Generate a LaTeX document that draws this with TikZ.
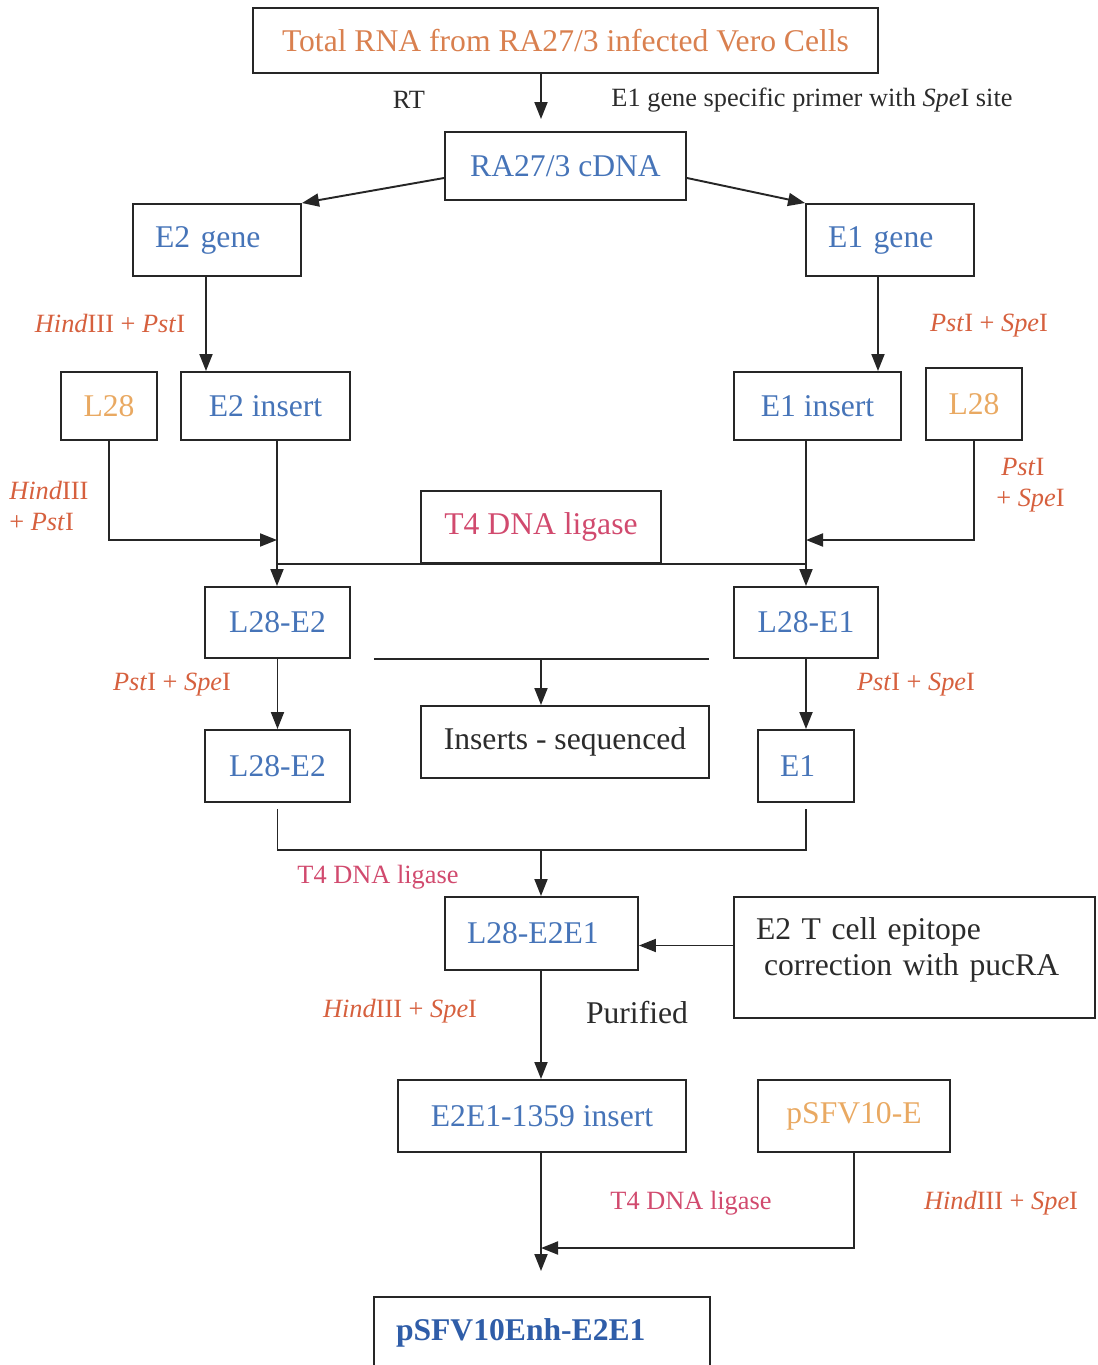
\documentclass[tikz,border=0pt]{standalone}
\usepackage{fontspec}
\setmainfont{Liberation Serif}
\usetikzlibrary{arrows.meta,calc}

\definecolor{linecol}{HTML}{262626}
\definecolor{txtcol}{HTML}{2B2B2B}
\definecolor{orangetxt}{HTML}{D9804F}
\definecolor{bluetxt}{HTML}{4674B8}
\definecolor{darkblue}{HTML}{2F5DA8}
\definecolor{peachtxt}{HTML}{E9A962}
\definecolor{enzred}{HTML}{D6603E}
\definecolor{ligpink}{HTML}{D14A6E}

\def\pu{0.02cm}
\newcommand\bigtxt{\fontsize{18}{21}\selectfont}
\newcommand\smalltxt{\fontsize{15}{18}\selectfont}

\tikzset{
box/.style 2 args={draw=linecol, line width=1.1pt, minimum width=#1*\pu, minimum height=#2*\pu, inner sep=0pt, font=\bigtxt, text=bluetxt},
lbox/.style 2 args={box={#1}{#2}, align=left, text width=(#1-44)*\pu},
arr/.style={draw=linecol, line width=1.1pt, -{Triangle[length=0.34cm,width=0.26cm]}},
ln/.style={draw=linecol, line width=1.1pt},
lab/.style={inner sep=0pt, font=\smalltxt, text=txtcol},
enz/.style={lab, text=enzred},
lig/.style={lab, text=ligpink}
}

\begin{document}
\begin{tikzpicture}[x=0.02cm, y=-0.02cm]
\useasboundingbox (0,0) rectangle (1098,1365);

\coordinate (cmid) at (541,0);
\coordinate (cleft) at (277,0);
\coordinate (cright) at (806,0);
\coordinate (c2) at (206,0);
\coordinate (c1) at (878,0);
\coordinate (jl) at (277,540);
\coordinate (jr) at (806,540);
\coordinate (jb) at (541,850);
\coordinate (jf) at (541,1248);

\node[box={625}{65}, text=orangetxt] (total) at (565.5,40.5) {Total RNA from RA27/3 infected Vero Cells};
\node[box={241}{68}] (cdna) at (565.5,166) {RA27/3 cDNA};
\node[lbox={168}{72}] (e2gene) at (217,240) {E2 gene};
\node[lbox={168}{72}] (e1gene) at (890,240) {E1 gene};
\node[box={96}{68}, text=peachtxt] (l28a) at (109,406) {L28};
\node[box={169}{68}] (e2ins) at (265.5,406) {E2 insert};
\node[box={167}{68}] (e1ins) at (817.5,406) {E1 insert};
\node[box={96}{72}, text=peachtxt] (l28b) at (974,404) {L28};
\node[box={240}{72}, text=ligpink] (ligase) at (541,527) {T4 DNA ligase};
\node[box={145}{71}] (l28e2) at (277.5,622.5) {L28-E2};
\node[box={144}{71}] (l28e1) at (806,622.5) {L28-E1};
\node[box={288}{72}, text=txtcol] (inserts) at (565,742) {Inserts - sequenced};
\node[box={145}{72}] (l28e2b) at (277.5,766) {L28-E2};
\node[lbox={96}{72}] (e1) at (806,766) {E1};
\node[lbox={193}{73}] (l28e2e1) at (541.5,933.5) {L28-E2E1};
\node[lbox={361}{121}, text=txtcol, text height=42*\pu, text depth=79*\pu] (epitope) at (914.5,957.5) {E2 T cell epitope\\\hspace*{0.16cm}correction with pucRA};
\node[box={288}{72}] (e2e1ins) at (542,1116) {E2E1-1359 insert};
\node[box={192}{72}, text=peachtxt] (psfv) at (854,1116) {pSFV10-E};
\node[lbox={336}{72}, text=darkblue, font=\bigtxt\bfseries] (final) at (542,1333) {pSFV10Enh-E2E1};

\node[lab] (rt) at (409,100) {RT};
\node[lab] (primer) at (812,100) {E1 gene specific primer with \textit{Spe}I site};
\node[enz] (hp1) at (110,323) {\textit{Hind}III + \textit{Pst}I};
\node[enz] (ps1) at (989,326) {\textit{Pst}I + \textit{Spe}I};
\node[enz, align=left, anchor=west] (hp2) at (9,506) {\textit{Hind}III\\+ \textit{Pst}I};
\node[enz, align=left, anchor=west] (ps2) at (996,485) {\hspace*{0.1cm}\textit{Pst}I\\+ \textit{Spe}I};
\node[enz] (ps3) at (172,685) {\textit{Pst}I + \textit{Spe}I};
\node[enz] (ps4) at (916,685) {\textit{Pst}I + \textit{Spe}I};
\node[lig] (t4a) at (378,877) {T4 DNA ligase};
\node[enz] (hs1) at (400,1011) {\textit{Hind}III + \textit{Spe}I};
\node[lab, font=\bigtxt] (pur) at (637,1013) {Purified};
\node[lig] (t4b) at (691,1203) {T4 DNA ligase};
\node[enz] (hs2) at (1001,1203) {\textit{Hind}III + \textit{Spe}I};

\draw[arr, shorten >=12*\pu] (total.south -| cmid) -- (cdna.north -| cmid);
\draw[arr] ($(cdna.west)+(0,12)$) -- (e2gene.north east);
\draw[arr] ($(cdna.east)+(0,12)$) -- (e1gene.north west);
\draw[arr] (e2gene.south -| c2) -- (e2ins.north -| c2);
\draw[arr] (e1gene.south -| c1) -- (e1ins.north -| c1);
\draw[arr] (l28a.south) |- (jl);
\draw[arr] (l28b.south) |- (jr);
\draw[arr] (e2ins.south -| cleft) -- (l28e2.north -| cleft);
\draw[arr] (e1ins.south -| cright) -- (l28e1.north -| cright);
\draw[ln] (ligase.south -| cleft) -- (ligase.south -| cright);
\draw[arr] (l28e2.south) -- (l28e2b.north);
\draw[arr] (l28e1.south) -- (e1.north);
\draw[ln] ($(l28e2.south east)+(23,0)$) -- ($(l28e1.south west)+(-24,0)$);
\draw[arr] (l28e2.south -| cmid) -- (inserts.north -| cmid);
\draw[ln] ($(l28e2b.south)+(0,6)$) |- (jb) -| ($(e1.south)+(0,6)$);
\draw[arr] (jb) -- (l28e2e1.north -| cmid);
\draw[arr] ($(epitope.west)+(0,-12)$) coordinate (ep) -- (ep -| l28e2e1.east);
\draw[arr] (l28e2e1.south -| cmid) -- (e2e1ins.north -| cmid);
\draw[arr, shorten >=25*\pu] (e2e1ins.south -| cmid) -- (final.north -| cmid);
\draw[arr] (psfv.south) |- (jf);
\end{tikzpicture}
\end{document}
